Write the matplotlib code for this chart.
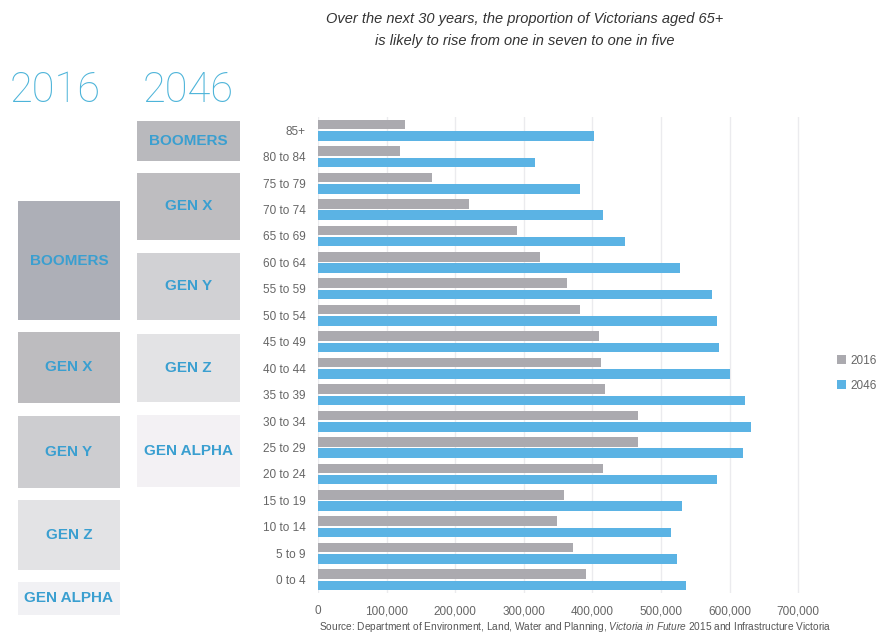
import matplotlib
matplotlib.use("Agg")
import matplotlib.pyplot as plt
from matplotlib.patches import Rectangle
import numpy as np

# ---------------- data ----------------
age_groups = ["85+", "80 to 84", "75 to 79", "70 to 74", "65 to 69", "60 to 64",
              "55 to 59", "50 to 54", "45 to 49", "40 to 44", "35 to 39", "30 to 34",
              "25 to 29", "20 to 24", "15 to 19", "10 to 14", "5 to 9", "0 to 4"]
pop_2016 = [127000, 120000, 166000, 220000, 290000, 323000, 363000, 382000, 409000,
            412000, 419000, 467000, 467000, 416000, 358000, 349000, 372000, 390000]
pop_2046 = [403000, 317000, 382000, 416000, 447000, 528000, 574000, 582000, 584000,
            600000, 623000, 631000, 620000, 582000, 531000, 514000, 523000, 536000]
x_ticks = [0, 100000, 200000, 300000, 400000, 500000, 600000, 700000]
x_tick_labels = ["0", "100,000", "200,000", "300,000", "400,000", "500,000", "600,000", "700,000"]
series_names = ["2016", "2046"]

gens_2016 = ["BOOMERS", "GEN X", "GEN Y", "GEN Z", "GEN ALPHA"]
gens_2046 = ["BOOMERS", "GEN X", "GEN Y", "GEN Z", "GEN ALPHA"]

title = ("Over the next 30 years, the proportion of Victorians aged 65+\n"
         "is likely to rise from one in seven to one in five")

# ---------------- layout / style ----------------
W, H = 889, 637
GRAY = "#abaaaf"
BLUE = "#5bb3e4"
LABEL_BLUE = "#3a9fd0"
TEXT = "#666666"

plt.rcParams["font.family"] = ["Liberation Sans", "DejaVu Sans"]
plt.rcParams["mathtext.fontset"] = "custom"
plt.rcParams["mathtext.it"] = "Liberation Sans:italic"
plt.rcParams["mathtext.rm"] = "Liberation Sans"

fig = plt.figure(figsize=(W / 100, H / 100), dpi=100)
fig.patch.set_facecolor("white")

def fx(px):
    return px / W

def fy(py):
    return 1 - py / H

ax_left, ax_right, ax_top, ax_bottom = 318, 805, 117, 593
ax = fig.add_axes([fx(ax_left), fy(ax_bottom), fx(ax_right - ax_left), (ax_bottom - ax_top) / H])

y = np.arange(len(age_groups))
bh = 0.36
off = 0.215
ax.barh(y - off, pop_2016, height=bh, color=GRAY, label=series_names[0], zorder=3)
ax.barh(y + off, pop_2046, height=bh, color=BLUE, label=series_names[1], zorder=3)

ax.set_ylim(len(age_groups) - 0.5, -0.5)
ax.set_xlim(0, 710000)
ax.set_xticks(x_ticks)
ax.set_xticklabels(x_tick_labels, fontsize=8.5, color=TEXT)
ax.set_yticks(y)
ax.set_yticklabels(age_groups, fontsize=8.5, color=TEXT)
ax.tick_params(axis="both", length=0)
ax.tick_params(axis="x", pad=9)
ax.tick_params(axis="y", pad=9)
ax.grid(axis="x", color="#ebebee", linewidth=1, zorder=0)
for s in ax.spines.values():
    s.set_visible(False)

# legend
leg = fig.legend(loc="upper left", bbox_to_anchor=(fx(826), fy(344)), frameon=False,
                 fontsize=8.5, handlelength=0.8, handleheight=0.8, handletextpad=0.4,
                 labelspacing=1.1, labelcolor=TEXT)

# title
fig.text(fx(525), fy(30), title, ha="center", va="center", fontsize=10.5,
         style="italic", color="#333333", linespacing=1.75)

# year headings
for xc, yr in zip([55, 188], series_names):
    fig.text(fx(xc), fy(91), yr, ha="center", va="center", fontsize=30,
             family=["Roboto", "DejaVu Sans"], fontweight="light", color="#4db4d9")

# generation boxes (pixel layout)
boxes_2016 = [(201, 320, "#adafb7"), (332, 403, "#bdbcbf"), (416, 488, "#cdcdd0"),
              (500, 570, "#e3e3e5"), (582, 615, "#f1f1f4")]
boxes_2046 = [(121, 161, "#b9b9bd"), (173, 240, "#bebdc0"), (253, 320, "#d1d1d4"),
              (334, 402, "#e3e3e5"), (415, 487, "#f3f1f4")]

def draw_boxes(x0, x1, boxes, labels):
    for (t, b, c), lab in zip(boxes, labels):
        fig.add_artist(Rectangle((fx(x0), fy(b)), fx(x1 - x0), (b - t) / H,
                                 transform=fig.transFigure, facecolor=c, edgecolor="none"))
        fig.text(fx((x0 + x1) / 2), fy((t + b) / 2), lab, ha="center", va="center",
                 fontsize=11, fontweight="bold", color=LABEL_BLUE)

draw_boxes(18, 120, boxes_2016, gens_2016)
draw_boxes(137, 240, boxes_2046, gens_2046)

# source
fig.text(fx(575), fy(627),
         r"Source: Department of Environment, Land, Water and Planning, $\it{Victoria\ in\ Future\ 2015}$ and Infrastructure Victoria",
         ha="center", va="center", fontsize=7.3, color="#555555")

fig.savefig("out.png", dpi=100, facecolor="white")
